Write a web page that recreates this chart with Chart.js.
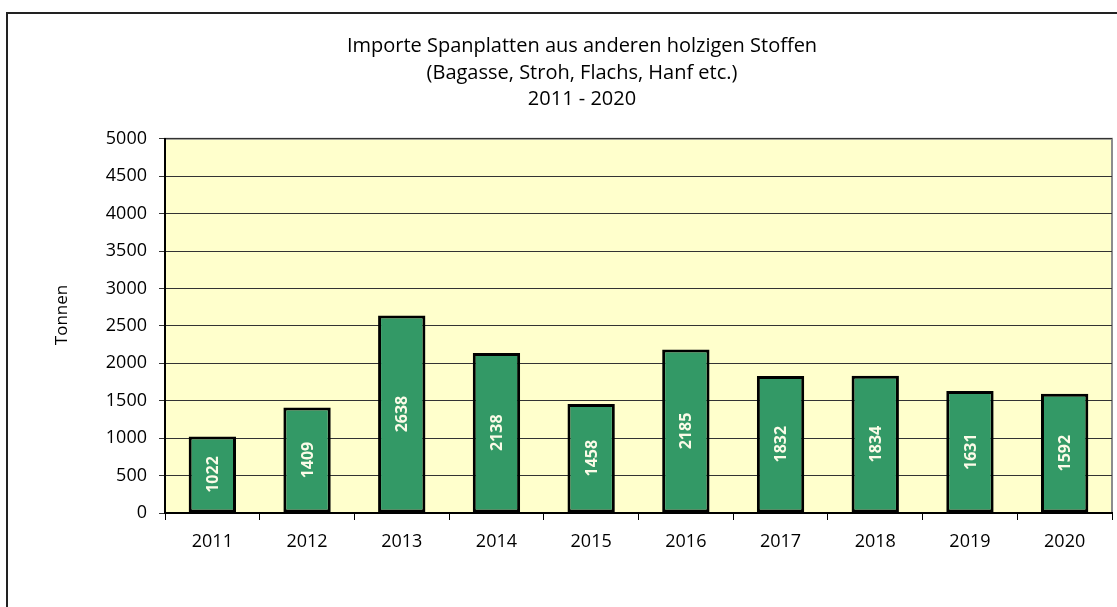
<!DOCTYPE html>
<html>
<head>
<meta charset="utf-8">
<script src="https://cdn.jsdelivr.net/npm/chart.js@4/dist/chart.umd.min.js"></script>
<style>
  html, body { margin: 0; padding: 0; background: #fff; overflow: hidden; }
  #wrap { position: relative; width: 1117px; height: 607px; }
  #frame { position: absolute; left: 6px; top: 12px; width: 1200px; height: 700px;
           border-left: 2px solid #222; border-top: 2px solid #222; pointer-events: none; }
</style>
</head>
<body>
<div id="wrap">
  <canvas id="chart" width="1117" height="607"></canvas>
  <div id="frame"></div>
</div>
<script>
// Daten
const years = ["2011", "2012", "2013", "2014", "2015", "2016", "2017", "2018", "2019", "2020"];
const tonnen = [1022, 1409, 2638, 2138, 1458, 2185, 1832, 1834, 1631, 1592];
const yTicks = [0, 500, 1000, 1500, 2000, 2500, 3000, 3500, 4000, 4500, 5000];
const titleLines = ["Importe Spanplatten aus anderen holzigen Stoffen", "(Bagasse, Stroh, Flachs, Hanf etc.)", "2011 - 2020"];
const yTitle = "Tonnen";

const FONT = "'Open Sans', sans-serif";

// plot area background + grey frame
const plotBg = {
  id: 'plotBg',
  beforeDraw(chart) {
    const { ctx, chartArea: a } = chart;
    ctx.save();
    ctx.fillStyle = '#FFFFCC';
    ctx.fillRect(a.left, a.top, a.right - a.left, a.bottom - a.top);
    ctx.strokeStyle = '#8c8c8c';
    ctx.lineWidth = 2;
    ctx.strokeRect(a.left, a.top, a.right - a.left, a.bottom - a.top);
    ctx.restore();
  }
};

// rotated value labels inside bars + axis title
const barLabels = {
  id: 'barLabels',
  afterDatasetsDraw(chart) {
    const { ctx } = chart;
    const meta = chart.getDatasetMeta(0);
    ctx.save();
    ctx.font = "bold 16px " + FONT;
    ctx.fillStyle = '#fbfbe8';
    ctx.textAlign = 'center';
    ctx.textBaseline = 'middle';
    meta.data.forEach((bar, i) => {
      const cy = (bar.y + bar.base) / 2;
      ctx.save();
      ctx.translate(bar.x, cy);
      ctx.rotate(-Math.PI / 2);
      ctx.fillText(String(tonnen[i]), 0, 1);
      ctx.restore();
    });
    // y axis title, Excel puts it a bit above the centre
    ctx.font = "17px " + FONT;
    ctx.fillStyle = '#000';
    ctx.translate(62, 315);
    ctx.rotate(-Math.PI / 2);
    ctx.fillText(yTitle, 0, 0);
    ctx.restore();
  }
};

new Chart(document.getElementById("chart"), {
  type: 'bar',
  data: {
    labels: years,
    datasets: [
      {
        data: tonnen,
        backgroundColor: '#339966',
        borderColor: '#000',
        borderWidth: 3,
        borderSkipped: false,
        barPercentage: 0.5,
        categoryPercentage: 1.0
      }
    ]
  },
  options: {
    responsive: false,
    animation: false,
    layout: { padding: { left: 52, right: 5, top: 0, bottom: 0 } },
    plugins: {
      legend: { display: false },
      tooltip: { enabled: false },
      title: {
        display: true,
        text: titleLines,
        color: '#000',
        font: { family: FONT, size: 20, weight: 'normal', lineHeight: 1.33 },
        padding: { top: 33, bottom: 26 }
      }
    },
    scales: {
      x: {
        grid: {
          offset: true,
          drawOnChartArea: false,
          drawTicks: true,
          tickLength: 7,
          color: '#000'
        },
        border: { color: '#000', width: 2 },
        ticks: {
          color: '#000',
          padding: 11,
          font: { family: FONT, size: 18 }
        },
        afterFit(scale) { scale.height = 94; }
      },
      y: {
        min: 0,
        max: 5000,
        afterBuildTicks(scale) { scale.ticks = yTicks.map(v => ({ value: v })); },
        grid: {
          color: '#333',
          lineWidth: 1,
          tickLength: 6
        },
        border: { color: '#000', width: 2 },
        ticks: {
          color: '#000',
          padding: 12,
          font: { family: FONT, size: 18 },
          callback: v => String(v)
        },
        afterFit(scale) { scale.width = 113; }
      }
    }
  },
  plugins: [plotBg, barLabels]
});
</script>
</body>
</html>
